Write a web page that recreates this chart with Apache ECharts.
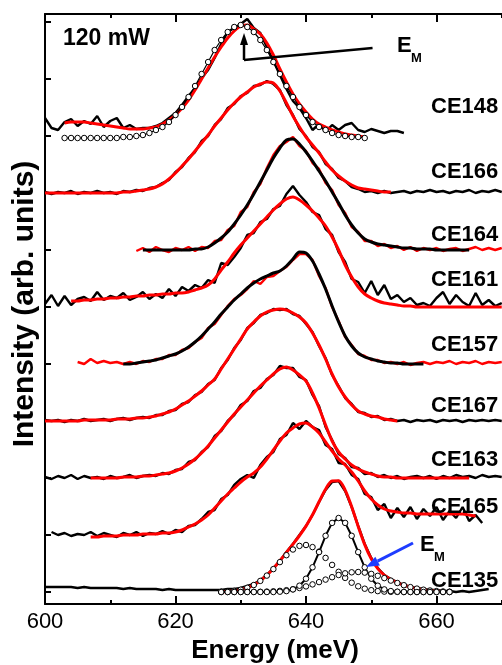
<!DOCTYPE html>
<html>
<head>
<meta charset="utf-8">
<title>CE spectra</title>
<script src="https://cdn.jsdelivr.net/npm/echarts@6/dist/echarts.min.js"></script>
<style>
  html, body { margin: 0; padding: 0; background: #fff; }
  #echart1 { width: 502px; height: 665px; }
</style>
</head>
<body>
<div id="echart1"></div>
<script>
// sample names, top to bottom, and vertical offset of each spectrum
var names = ['CE148', 'CE166', 'CE164', 'CE161', 'CE157', 'CE167', 'CE163', 'CE165', 'CE135'];
var offsets = [456, 399, 342, 285, 228, 171, 114, 57, 0];
var yTicks = [0, 57, 114, 171, 228, 285, 342, 399, 456, 513, 570];

// first energy (meV) of each array, 1 meV steps
var dataStart = [600, 600, 614, 600, 605, 600, 600, 601, 600];
var fitStart = [603, 600, 615, 604, 612, 600, 607, 607, 627];
var peakStart = 603;   // CE148 gaussian
var compStart = 627;   // CE135 components

var ce148Data = [18, 8, 6, 14, 17, 10, 15, 12, 20, 9, 15, 18, 8, 11, 7, 8, 8, 10, 13, 18,
  23, 31, 40, 48, 58, 66, 78, 92, 104, 108, 112, 117, 108, 103, 89, 75, 61, 47, 35, 28,
  18, 6, 12, 4, 11, 6, 11, 13, 6, 4, 7, 5, 3, 5, 5, 3];
var ce148Fit = [13, 14, 14, 14, 13, 12, 11, 10, 9, 8, 7, 7, 7, 8, 9, 12, 16, 21, 28, 36,
  46, 57, 68, 79, 89, 98, 105, 110, 111, 107, 102, 93, 81, 67, 54, 42, 32, 24, 17, 12,
  9, 6, 4, 2, 1, 0, -1];
var ce148Peak = [-2, -2, -2, -2, -2, -2, -2, -2, -2, -1, -1, 0, 1, 3, 6, 9, 14, 21, 29, 39,
  50, 62, 74, 86, 96, 104, 109, 111, 109, 104, 96, 86, 74, 62, 50, 39, 29, 21, 14, 9,
  6, 3, 1, 0, -1, -1, -2];

var ce166Data = [1, -1, 1, 0, 2, -1, 1, 0, 2, 0, 1, -1, 2, 1, 3, 2, 5, 6, 10, 13,
  21, 26, 35, 41, 52, 57, 68, 74, 85, 89, 97, 100, 107, 108, 112, 109, 103, 88, 78, 64,
  57, 46, 41, 29, 24, 15, 12, 6, 4, 1, 2, 0, 2, 0, 1, 2, 0, 2, 1, 3,
  1, 2, 0, 2, 1, 3, 0, 2, 1, 3, 1];
var ce166Fit = [0, 0, 0, 0, 0, 0, 0, 0, 0, 0, 0, 0, 1, 1, 2, 3, 4, 6, 9, 14,
  20, 27, 34, 42, 50, 58, 67, 75, 83, 90, 96, 101, 106, 109, 111, 110, 102, 90, 77, 66,
  56, 48, 40, 31, 23, 17, 12, 8, 5, 4, 3, 2, 1, 1];

var ce164Data = [-1, 2, -2, 3, 0, -2, 2, 0, 3, -1, 3, 2, 9, 10, 20, 24, 38, 43, 58, 66,
  82, 95, 104, 108, 113, 104, 99, 87, 81, 67, 60, 45, 37, 23, 18, 9, 9, 4, 6, 2,
  4, 0, 3, -1, 2, 0, 2, -1, 1, 2, -1, 1, 3, 0, 2, 0, 2];
var ce164Fit = [0, 0, 0, 0, 0, 0, 0, 0, 1, 1, 3, 7, 12, 18, 26, 35, 45, 56, 68, 80,
  92, 102, 110, 111, 106, 98, 89, 79, 69, 58, 47, 35, 25, 17, 11, 8, 6, 5, 4, 3,
  2, 2, 1, 1, 1, 0, 0, 0, 0, 0, 0];

var ce161Data = [3, 12, 1, 11, 2, 8, 10, 6, 15, 7, 11, 9, 14, 7, 10, 15, 8, 13, 9, 18,
  11, 20, 16, 22, 19, 27, 24, 44, 42, 50, 59, 72, 74, 85, 88, 98, 101, 113, 121, 112,
  105, 95, 92, 78, 72, 55, 45, 28, 25, 14, 26, 12, 22, 8, 12, 5, 9, 2, 4, 1,
  9, 15, 3, 12, 5, 1, 14, 2, 7, 1, 4];
var ce161Fit = [6, 6, 7, 7, 8, 8, 9, 9, 10, 10, 11, 11, 12, 12, 13, 13, 14, 14, 15, 17,
  19, 22, 28, 37, 45, 54, 62, 69, 76, 83, 90, 97, 103, 108, 110, 107, 102, 96, 89, 81,
  70, 57, 42, 30, 20, 13, 9, 6, 4, 3, 2, 1, 1, 0, 0, 0, 0, 0, 0, 0,
  0, 0, 0, 0, 0, 0, 0];

var ce157Data = [2, 0, 5, 1, 3, 1, 2, 0, 2, 0, 3, 2, 5, 5, 9, 9, 14, 16, 22, 26,
  36, 40, 49, 58, 65, 69, 75, 83, 80, 87, 88, 93, 97, 104, 110, 110, 104, 88, 76, 57,
  43, 27, 19, 10, 8, 4, 4, 1, 2, 0, 2, -1, 1, 2, 0, 2, 1, 3, 0, 2,
  1, 3, 0, 2, 1, 2];
var ce157Fit = [0, 0, 1, 2, 3, 4, 6, 8, 10, 13, 17, 22, 28, 35, 42, 50, 57, 64, 70, 76,
  81, 85, 88, 91, 93, 98, 105, 112, 111, 103, 90, 75, 58, 42, 28, 18, 11, 7, 5, 3,
  2, 1, 1, 0, 0, 0, 0];

var ce167Data = [1, 0, 1, -1, 1, 0, 2, 0, 1, 2, 0, 2, 3, 1, 3, 4, 3, 6, 6, 10,
  11, 17, 19, 26, 29, 37, 41, 53, 61, 73, 81, 93, 98, 106, 108, 112, 111, 112, 107, 105,
  97, 89, 75, 63, 46, 35, 23, 17, 9, 8, 4, 5, 1, 2, 0, 1, -1, 1, 0, 1,
  -1, 1, 0, 1, -1, 1, 0, 1, 0, 1, 0];
var ce167Fit = [0, 0, 0, 0, 0, 0, 1, 1, 1, 1, 1, 2, 2, 2, 3, 3, 4, 5, 7, 9,
  12, 16, 20, 25, 30, 36, 42, 52, 62, 72, 82, 92, 99, 105, 109, 111, 112, 111, 108, 104,
  98, 88, 76, 62, 47, 34, 24, 16, 10, 7, 5, 4, 2, 1, 0];

var ce163Data = [1, -1, 2, 0, 3, -1, 2, 0, 1, -1, 2, 0, 1, 3, 0, 2, 3, 2, 5, 4,
  8, 9, 16, 18, 26, 31, 42, 47, 57, 63, 73, 77, 87, 90, 99, 103, 112, 110, 110, 101,
  98, 83, 72, 51, 38, 24, 20, 11, 10, 4, 5, 1, 3, 0, 2, -1, 1, 2, 0, 2,
  -1, 2, 0, 3, 1, 2, 0, 3, 1, 2, 1];
var ce163Fit = [0, 0, 0, 0, 0, 1, 1, 1, 2, 2, 3, 4, 5, 7, 10, 14, 19, 25, 32, 40,
  48, 56, 64, 71, 78, 85, 92, 98, 104, 109, 111, 108, 103, 97, 85, 70, 53, 37, 26, 19,
  13, 9, 6, 4, 2, 1, 1, 0, 0, 0, 0, 0, 0, 0, 0, 0, 0, 0, 0];

var ce165Data = [3, 0, 2, -1, 1, 0, 3, -1, 2, 0, -2, 2, 0, 3, -1, 2, 1, 4, 1, 5,
  3, 9, 10, 16, 23, 25, 36, 40, 50, 56, 60, 57, 70, 78, 83, 96, 100, 112, 106, 114,
  108, 105, 90, 86, 72, 71, 60, 56, 41, 38, 25, 31, 17, 27, 18, 28, 16, 26, 19, 28,
  15, 24, 17, 28, 14, 20, 12];
var ce165Fit = [-2, -2, -1, -1, -1, 0, 0, 0, 1, 1, 1, 2, 2, 3, 5, 8, 11, 15, 20, 27,
  34, 41, 47, 53, 58, 62, 68, 76, 85, 94, 102, 107, 111, 112, 108, 102, 93, 84, 76, 70,
  63, 54, 44, 36, 30, 26, 24, 23, 22, 22, 21, 21, 21, 21, 21, 21, 21, 21, 20, 19];

var ce135Data = [5, 5, 5, 5, 5, 4, 5, 4, 4, 4, 4, 4, 3, 4, 3, 3, 3, 3, 2, 3,
  2, 2, 2, 2, 2, 2, 2, 2, 3, 3, 4, 6, 8, 12, 17, 24, 31, 40, 48, 57,
  66, 77, 90, 102, 110, 111, 101, 85, 66, 48, 34, 24, 17, 13, 10, 7, 5, 4, 3, 2,
  2, 1, 1, 0, 1, 0, 1, 2, 3];
var ce135Fit = [0.3, 0.6, 1.2, 2.3, 4.3, 7.1, 11.3, 16.8, 23.6, 31.3, 39.5, 47.8, 56.4, 65.9, 77.2,
  90.2, 102.7, 111, 111.2, 101.9, 85.2, 65.6, 47.4, 33.2, 23.4, 16.9, 12.5, 9.4, 6.8, 4.9,
  3.4, 2.3, 1.5, 0.9, 0.5];
var ce135Comp1 = [0.3, 0.6, 1.2, 2.3, 4.2, 7.0, 11.1, 16.4, 22.9, 29.9, 36.8, 42.5, 46.1, 47, 44.9,
  40.4, 34.1, 27.1, 20.2, 14.1, 9.3, 5.7, 3.3, 1.8, 0.9, 0.4, 0.2, 0.1, 0, 0, 0, 0, 0, 0, 0, 0];
var ce135Comp2 = [0, 0, 0, 0, 0, 0, 0, 0, 0, 0.3, 0.9, 2.6, 6.3, 13.3, 24.7, 39.9, 56.2, 69.1,
  74, 69.1, 56.2, 39.9, 24.7, 13.3, 6.3, 2.6, 0.9, 0.3, 0, 0, 0, 0, 0, 0, 0, 0];
var ce135Comp3 = [0, 0, 0, 0, 0.1, 0.1, 0.2, 0.4, 0.7, 1.1, 1.8, 2.7, 4.0, 5.6, 7.6, 9.9, 12.4,
  14.8, 17.0, 18.7, 19.7, 20, 19.4, 18.1, 16.2, 13.9, 11.4, 9.0, 6.8, 4.9, 3.4, 2.3, 1.5,
  0.9, 0.5, 0.3];

var dataSets = [ce148Data, ce166Data, ce164Data, ce161Data, ce157Data, ce167Data, ce163Data, ce165Data, ce135Data];
var fitSets = [ce148Fit, ce166Fit, ce164Fit, ce161Fit, ce157Fit, ce167Fit, ce163Fit, ce165Fit, ce135Fit];

// styling / layout (not data)
var FONT = '"Liberation Sans", Arial, Helvetica, sans-serif';
var RED = '#ff0000';
var BLACK = '#000000';
var BLUE = '#1e3cff';
var dataColor = [BLACK, BLACK, RED, BLACK, RED, BLACK, BLACK, BLACK, BLACK];
var fitColor = [RED, RED, BLACK, RED, BLACK, RED, RED, RED, RED];
var labelY = [107, 172, 235, 280, 345, 406, 460, 507, 581];

var myChart = echarts.init(document.getElementById('echart1'));

function toPoints(start, values, offset) {
  return values.map(function (v, i) { return [start + i, offset + v]; });
}

function curve(points, color, width, smooth) {
  return {
    type: 'line',
    data: points,
    showSymbol: false,
    smooth: smooth ? 0.3 : false,
    lineStyle: { color: color, width: width },
    emphasis: { disabled: true },
    silent: true
  };
}

function circles(points, lineWidth) {
  return {
    type: 'line',
    data: points,
    showSymbol: true,
    showAllSymbol: true,
    symbol: 'circle',
    symbolSize: 5.5,
    itemStyle: { color: '#ffffff', borderColor: BLACK, borderWidth: 1 },
    lineStyle: lineWidth > 0 ? { color: BLACK, width: lineWidth } : { opacity: 0 },
    emphasis: { disabled: true },
    silent: true
  };
}

var series = [];
for (var k = 0; k < names.length; k++) {
  series.push(curve(toPoints(dataStart[k], dataSets[k], offsets[k]), dataColor[k], 2.4, false));
  series.push(curve(toPoints(fitStart[k], fitSets[k], offsets[k]), fitColor[k], 3, true));
}
series.push(circles(toPoints(peakStart, ce148Peak, offsets[0]), 1.2));
series.push(circles(toPoints(compStart, ce135Comp1, offsets[8]), 0));
series.push(circles(toPoints(compStart, ce135Comp3, offsets[8]), 0));
series.push(circles(toPoints(compStart, ce135Comp2, offsets[8]), 2));

var xBase = {
  type: 'value',
  min: 600,
  max: 680,
  interval: 20,
  axisLine: { show: true, onZero: false, lineStyle: { color: BLACK, width: 2 } },
  axisTick: { show: true, inside: true, length: 8, lineStyle: { color: BLACK, width: 2 } },
  minorTick: { show: true, splitNumber: 2, length: 4, lineStyle: { color: BLACK, width: 2 } },
  splitLine: { show: false },
  minorSplitLine: { show: false }
};

var option = {
  animation: false,
  backgroundColor: '#ffffff',
  grid: { left: 45, top: 14, right: -65, bottom: 61, outerBoundsMode: 'none', containLabel: false },
  xAxis: [
    Object.assign({}, xBase, {
      position: 'bottom',
      axisLabel: {
        color: BLACK, fontSize: 22, fontFamily: FONT, margin: 7,
        formatter: function (v) { return v <= 660 ? String(v) : ''; }
      },
      name: 'Energy (meV)',
      nameLocation: 'middle',
      nameGap: 33,
      nameTextStyle: { color: BLACK, fontSize: 26, fontWeight: 'bold', fontFamily: FONT, padding: [0, 62, 0, 0] }
    }),
    Object.assign({}, xBase, { position: 'top', axisLabel: { show: false } })
  ],
  yAxis: {
    type: 'value',
    min: -12,
    max: 578,
    axisLine: { show: true, lineStyle: { color: BLACK, width: 2 } },
    axisTick: { show: true, inside: true, length: 6, customValues: yTicks, lineStyle: { color: BLACK, width: 2 } },
    axisLabel: { show: false },
    splitLine: { show: false },
    name: 'Intensity (arb. units)',
    nameLocation: 'middle',
    nameGap: 5,
    nameTextStyle: { color: BLACK, fontSize: 30, fontWeight: 'bold', fontFamily: FONT, padding: [0, 0, 0, 10] }
  },
  series: series
};

myChart.setOption(option);

// annotations
function px(e, y) { return myChart.convertToPixel({ xAxisIndex: 0, yAxisIndex: 0 }, [e, y]); }

function arrow(from, tip, color, width, headLen, headHalf) {
  var dx = tip[0] - from[0], dy = tip[1] - from[1];
  var len = Math.sqrt(dx * dx + dy * dy);
  var ux = dx / len, uy = dy / len;
  var bx = tip[0] - ux * headLen, by = tip[1] - uy * headLen;
  return [
    { type: 'line', shape: { x1: from[0], y1: from[1], x2: bx, y2: by },
      style: { stroke: color, lineWidth: width }, z: 100 },
    { type: 'polygon', shape: { points: [tip, [bx - uy * headHalf, by + ux * headHalf], [bx + uy * headHalf, by - ux * headHalf]] },
      style: { fill: color }, z: 100 }
  ];
}

function label(text, x, y, size, color) {
  return {
    type: 'text', z: 100,
    style: { text: text, x: x, y: y, fill: color || BLACK, font: 'bold ' + size + 'px ' + FONT, verticalAlign: 'middle', align: 'left' }
  };
}

var graphics = [];
names.forEach(function (n, i) { graphics.push(label(n, 431, labelY[i], 22)); });
graphics.push(label('120 mW', 63, 39, 23));

// E_M marker on the top spectrum
var kink = px(630.5, 532);
graphics = graphics.concat(arrow(kink, px(630.5, 559), BLACK, 2.5, 12, 4));
var lineEnd = px(650.2, 544);
graphics.push({ type: 'line', shape: { x1: kink[0], y1: kink[1], x2: lineEnd[0], y2: lineEnd[1] },
  style: { stroke: BLACK, lineWidth: 2.5 }, z: 100 });
graphics.push(label('E', 397, 46, 22));
graphics.push(label('M', 411, 58, 13));

// E_M marker on CE135
graphics = graphics.concat(arrow(px(656.4, 49), px(649.2, 25), BLUE, 3, 13, 5));
graphics.push(label('E', 420, 545, 22));
graphics.push(label('M', 434, 557, 13));

myChart.setOption({ graphic: graphics });
</script>
</body>
</html>
